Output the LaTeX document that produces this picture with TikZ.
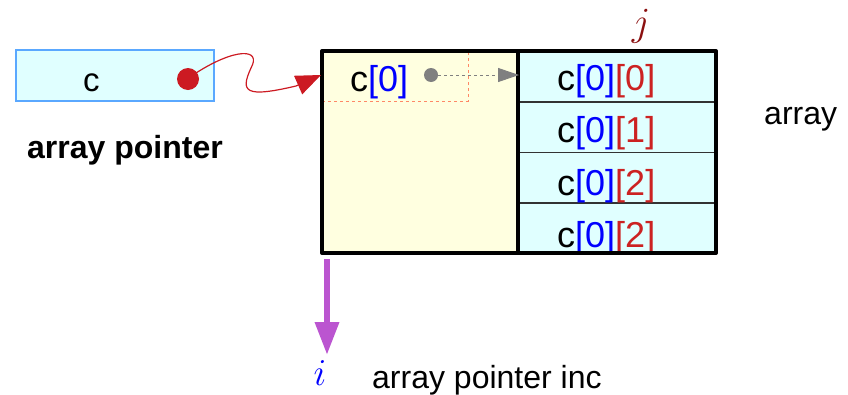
\RequirePackage{fix-cm}
\documentclass[tikz,border=0pt]{standalone}
\usepackage{fontspec}
\setmainfont{Liberation Sans}
\usetikzlibrary{arrows.meta}
\definecolor{cyanfill}{HTML}{E0FFFF}
\definecolor{yelfill}{HTML}{FFFFE0}
\definecolor{cborder}{HTML}{5AA8FF}
\definecolor{ptrred}{HTML}{CC1A22}
\definecolor{idxblue}{HTML}{0000FF}
\definecolor{idxred}{HTML}{CC2222}
\definecolor{jred}{HTML}{8B1010}
\definecolor{dashorange}{HTML}{FF8866}
\definecolor{purp}{HTML}{BB55D0}
\definecolor{grayptr}{HTML}{808080}
\tikzset{
  lbl/.style={inner sep=0pt, font=\fontsize{32}{38}\selectfont},
  celltxt/.style={inner sep=0pt, anchor=base west, font=\fontsize{36}{42}\selectfont},
  mathlbl/.style={inner sep=0pt, font=\fontsize{40}{46}\selectfont},
}
\newcommand{\bl}[1]{\textcolor{idxblue}{#1}}
\newcommand{\rd}[1]{\textcolor{idxred}{#1}}
\begin{document}
\begin{tikzpicture}[x=1pt,y=-1pt]
\useasboundingbox (0,0) rectangle (848,394);
% pointer box
\node[draw=cborder, fill=cyanfill, line width=1.2pt, minimum width=198pt, minimum height=51pt, inner sep=0pt] (cbox) at (115,75.5) {};
\node[celltxt, font=\fontsize{33}{40}\selectfont] (ctxt) at (83,91) {c};
\node[circle, fill=ptrred, minimum size=22pt, inner sep=0pt] (rdot) at (188,79) {};
\node[lbl, font=\bfseries\fontsize{32}{38}\selectfont, anchor=base west] (aplbl) at (27,158) {array pointer};
% array block
\node[fill=yelfill, minimum width=196pt, minimum height=202pt, inner sep=0pt, anchor=north west] (ybox) at (322,51) {};
\foreach \k in {0,1,2,3}{
  \node[fill=cyanfill, minimum width=198pt, minimum height=50.5pt, inner sep=0pt, anchor=north west] (row\k) at (518,51+50.5*\k) {};
}
\draw[line width=1.2pt, black!80] (row0.south west) -- (row0.south east);
\draw[line width=1.2pt, black!80] (row1.south west) -- (row1.south east);
\draw[line width=1.2pt, black!80] (row2.south west) -- (row2.south east);
% dashed orange sub-box
\coordinate (dA) at (322,101);
\coordinate (dB) at (468,101);
\coordinate (dC) at (468,51);
\draw[dashorange, dashed, line width=0.8pt] (dA) -- (dB) -- (dC);
% texts
\node[celltxt] (c0) at (350,91) {c\bl{[0]}};
\node[celltxt] (t0) at (557,90) {c\bl{[0]}\rd{[0]}};
\node[celltxt] (t1) at (557,142) {c\bl{[0]}\rd{[1]}};
\node[celltxt] (t2) at (557,195) {c\bl{[0]}\rd{[2]}};
\node[celltxt] (t3) at (557,247) {c\bl{[0]}\rd{[2]}};
% outlines
\draw[line width=4pt, line join=round] (322,51) rectangle (716,253);
\draw[line width=4pt] (518,51) -- (518,253);
% gray pointer
\node[circle, fill=grayptr, minimum size=14pt, inner sep=0pt] (gdot) at (431,75) {};
\coordinate (gtip) at (519,75);
\draw[grayptr, dashed, line width=1pt, -{Triangle[length=21pt,width=14pt]}] (gdot) -- (gtip);
% red pointer curve
\coordinate (rtip) at (321,75);
\draw[ptrred, line width=1.2pt, -{Triangle[length=25pt,width=20pt]}]
  (rdot.center) ++(8,-6) .. controls (235,48) and (262,48) .. (251,68)
  .. controls (240,92) and (245,98) .. (296,86) -- (rtip);
% labels
\node[mathlbl, text=jred] (jlbl) at (641,26) {$j$};
\node[lbl, anchor=base west] (arr) at (764,124) {array};
\coordinate (pstart) at (327,259);
\coordinate (pend) at (327,355);
\draw[purp, line width=6.5pt, -{Triangle[length=33pt,width=23pt]}] (pstart) -- (pend);
\node[mathlbl, font=\fontsize{38}{44}\selectfont, text=idxblue] (ilbl) at (320,373) {$i$};
\node[lbl, anchor=base west] (apinc) at (372,388) {array pointer inc};
\end{tikzpicture}
\end{document}
